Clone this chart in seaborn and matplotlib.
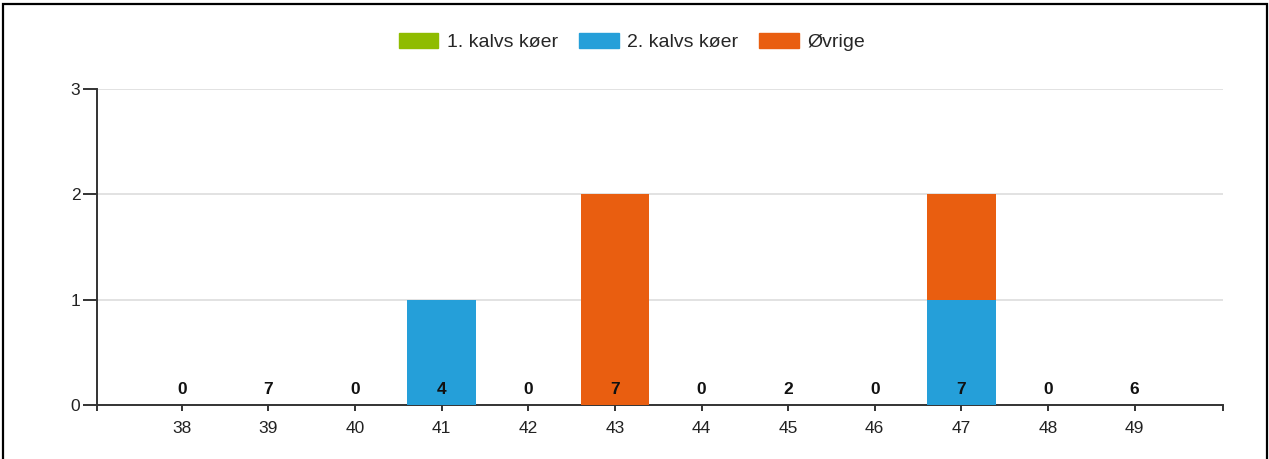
import pandas as pd
import matplotlib.pyplot as plt
import matplotlib.patches as mpatches
import seaborn as sns

uger = ["38", "39", "40", "41", "42", "43", "44", "45", "46", "47", "48", "49"]
kalv1 = [0, 0, 0, 0, 0, 0, 0, 0, 0, 0, 0, 0]
kalv2 = [0, 0, 0, 1, 0, 0, 0, 0, 0, 1, 0, 0]
ovrige = [0, 0, 0, 0, 0, 2, 0, 0, 0, 1, 0, 0]
antal = [0, 7, 0, 4, 0, 7, 0, 2, 0, 7, 0, 6]

serier = ["1. kalvs køer", "2. kalvs køer", "Øvrige"]
farver = ["#8fbc00", "#259fd9", "#e95e10"]

df = pd.DataFrame({"uge": uger, "k1": kalv1, "k2": kalv2, "ov": ovrige})
df["top_k1"] = df["k1"]
df["top_k2"] = df["k1"] + df["k2"]
df["top_ov"] = df["k1"] + df["k2"] + df["ov"]

sns.set_style("white")
plt.rcParams["font.family"] = ["Liberation Sans", "DejaVu Sans"]

fig = plt.figure(figsize=(12.69, 4.59), dpi=100)
ax = fig.add_axes([0.0764, 0.1176, 0.8873, 0.6885])

# stacking by overlaying cumulative totals, largest first
for col, c in zip(["top_ov", "top_k2", "top_k1"], farver[::-1]):
    sns.barplot(data=df, x="uge", y=col, color=c, width=0.79,
                saturation=1, linewidth=0, ax=ax, zorder=3)

for i, v in enumerate(antal):
    ax.annotate(str(v), xy=(i, 0), xytext=(0, 11), textcoords="offset points",
                ha="center", va="center", fontsize=12.5, fontweight="bold",
                color="#111111", zorder=5)

ax.set_xlim(-0.98, 12.02)
ax.set_ylim(0, 3)
ax.set_yticks([0, 1, 2, 3])
ax.set_xticks([-0.98, 12.02], minor=True)
ax.set_xlabel("")
ax.set_ylabel("")
ax.yaxis.grid(True, color="#dddddd", linewidth=1.2, zorder=0)
ax.set_axisbelow(True)
for s in ["top", "right"]:
    ax.spines[s].set_visible(False)
for s in ["left", "bottom"]:
    ax.spines[s].set_color("#333333")
    ax.spines[s].set_linewidth(1.4)
ax.tick_params(axis="x", which="both", bottom=True, direction="out", length=4.5,
               width=1.4, color="#333333", labelsize=12.5, labelcolor="#222222", pad=7)
ax.tick_params(axis="x", which="minor", labelbottom=False)
ax.tick_params(axis="y", left=True, direction="out", length=10, width=1.4,
               color="#333333", labelsize=12.5, labelcolor="#222222", pad=2)

handles = [mpatches.Patch(color=c, label=l) for c, l in zip(farver, serier)]
fig.legend(handles=handles, loc="center", bbox_to_anchor=(0.498, 0.909), ncol=3,
           frameon=False, fontsize=14, handlelength=2.05, handleheight=0.85,
           handletextpad=0.45, columnspacing=1.05)

fig.patches.append(mpatches.Rectangle((3 / 1269, -0.05), 1264 / 1269, 1.05 - 4 / 459,
                                      transform=fig.transFigure, fill=False,
                                      edgecolor="black", linewidth=1.6))

fig.savefig("out.png", dpi=100)
